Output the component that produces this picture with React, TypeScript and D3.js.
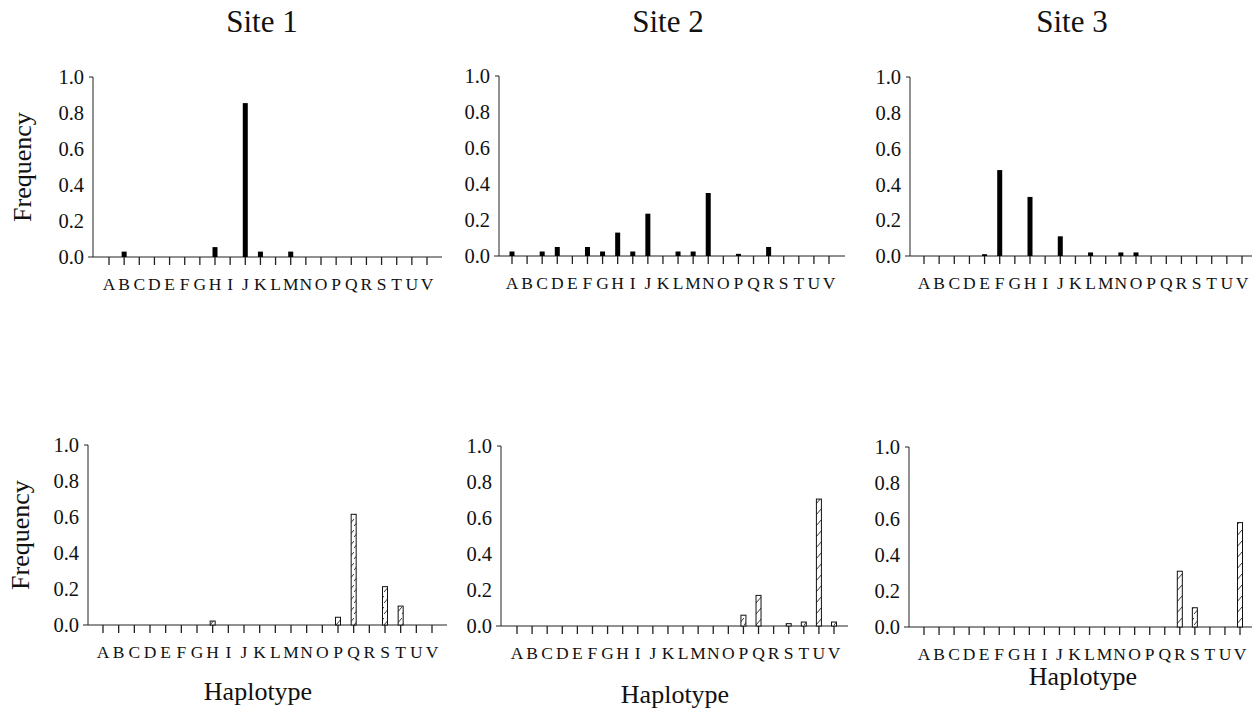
import React from "react";
import * as d3 from "d3";

const haplotypes = ["A","B","C","D","E","F","G","H","I","J","K","L","M","N","O","P","Q","R","S","T","U","V"];
const yTicks = [0, 0.2, 0.4, 0.6, 0.8, 1.0];
const siteTitles = ["Site 1", "Site 2", "Site 3"];

//                 A     B     C     D     E     F     G     H     I     J     K     L     M     N     O     P     Q     R     S     T     U     V
const topSite1 = [0,    0.03, 0,    0,    0,    0,    0,    0.055,0,    0.855,0.03, 0,    0.03, 0,    0,    0,    0,    0,    0,    0,    0,    0];
const topSite2 = [0.025,0,    0.025,0.05, 0,    0.05, 0.025,0.13, 0.025,0.235,0,    0.025,0.025,0.35, 0,    0.012,0,    0.05, 0,    0,    0,    0];
const topSite3 = [0,    0,    0,    0,    0.01, 0.48, 0,    0.33, 0,    0.11, 0,    0.02, 0,    0.02, 0.02, 0,    0,    0,    0,    0,    0,    0];
const botSite1 = [0,    0,    0,    0,    0,    0,    0,    0.022,0,    0,    0,    0,    0,    0,    0,    0.043,0.615,0,    0.213,0.105,0,    0];
const botSite2 = [0,    0,    0,    0,    0,    0,    0,    0,    0,    0,    0,    0,    0,    0,    0,    0.06, 0.17, 0,    0.013,0.022,0.705,0.022];
const botSite3 = [0,    0,    0,    0,    0,    0,    0,    0,    0,    0,    0,    0,    0,    0,    0,    0,    0,    0.31, 0.107,0,    0,    0.58];

type Panel = {
  values: number[];
  axisX: number; first: number; last: number; end: number; top: number; base: number;
  hatched: boolean; freq?: [number, number]; hap?: [number, number];
};

const panels: Panel[] = [
  { values: topSite1, axisX: 93, first: 109, last: 427, end: 442, top: 77, base: 257, hatched: false, freq: [31, 167] },
  { values: topSite2, axisX: 499, first: 512, last: 829, end: 845, top: 76, base: 256, hatched: false },
  { values: topSite3, axisX: 910, first: 924, last: 1242, end: 1252, top: 77, base: 256, hatched: false },
  { values: botSite1, axisX: 88, first: 103, last: 432, end: 447, top: 445, base: 625, hatched: true, freq: [29, 535], hap: [258, 700] },
  { values: botSite2, axisX: 501, first: 517, last: 834, end: 848, top: 446, base: 626, hatched: true, hap: [675, 703] },
  { values: botSite3, axisX: 909, first: 924, last: 1240, end: 1252, top: 447, base: 627, hatched: true, hap: [1083, 685] },
];

const titlePos: [number, number][] = [[262, 32], [668, 32], [1072, 32]];
const FONT = "'Liberation Serif', 'Times New Roman', Times, serif";

function PanelView({ p, idx }: { p: Panel; idx: number }) {
  const x = d3.scalePoint<string>().domain(haplotypes).range([p.first, p.last]);
  const y = d3.scaleLinear().domain([0, 1]).range([p.base, p.top]);
  const bw = 5;
  return (
    <g>
      <line x1={p.axisX} x2={p.axisX} y1={y(1)} y2={y(0)} stroke="#222" strokeWidth={1} />
      <line x1={p.axisX - 4} x2={p.axisX} y1={y(1)} y2={y(1)} stroke="#222" strokeWidth={1} />
      {yTicks.map((t) => (
        <text key={t} x={p.axisX - 9} y={y(t)} dy="0.35em" textAnchor="end" fontSize={20.5} fontFamily={FONT} fill="#111">
          {d3.format(".1f")(t)}
        </text>
      ))}
      <line x1={p.axisX - 5} x2={p.end} y1={y(0)} y2={y(0)} stroke="#222" strokeWidth={1} />
      {haplotypes.map((h) => (
        <g key={h}>
          <line x1={x(h)!} x2={x(h)!} y1={y(0)} y2={y(0) + 8} stroke="#222" strokeWidth={1.3} />
          <text x={x(h)!} y={y(0) + 33} textAnchor="middle" fontSize={17.5} fontFamily={FONT} fill="#111">{h}</text>
        </g>
      ))}
      {p.values.map((v, i) =>
        v > 0 ? (
          <rect
            key={i}
            x={x(haplotypes[i])! - bw / 2}
            y={y(v)}
            width={bw}
            height={y(0) - y(v)}
            fill={p.hatched ? `url(#hatch${idx})` : "#000"}
            stroke={p.hatched ? "#111" : "none"}
            strokeWidth={1}
          />
        ) : null
      )}
      {p.freq && (
        <text transform={`translate(${p.freq[0]},${p.freq[1]}) rotate(-90)`} textAnchor="middle" fontSize={26} fontFamily={FONT} fill="#111">
          Frequency
        </text>
      )}
      {p.hap && (
        <text x={p.hap[0]} y={p.hap[1]} textAnchor="middle" fontSize={26} fontFamily={FONT} fill="#111">
          Haplotype
        </text>
      )}
    </g>
  );
}

export default function App() {
  return (
    <svg width={1252} height={708} style={{ position: "absolute", left: 0, top: 0, background: "#fff" }}>
      <defs>
        {panels.map((_, i) => (
          <pattern key={i} id={`hatch${i}`} patternUnits="userSpaceOnUse" width={6} height={11}>
            <rect width={6} height={11} fill="#fff" />
            <path d="M0,9 L6,2" stroke="#222" strokeWidth={0.9} />
          </pattern>
        ))}
      </defs>
      <rect width={1252} height={708} fill="#fff" />
      {siteTitles.map((t, i) => (
        <text key={t} x={titlePos[i][0]} y={titlePos[i][1]} textAnchor="middle" fontSize={31} fontFamily={FONT} fill="#111">
          {t}
        </text>
      ))}
      {panels.map((p, i) => (
        <PanelView key={i} p={p} idx={i} />
      ))}
    </svg>
  );
}
